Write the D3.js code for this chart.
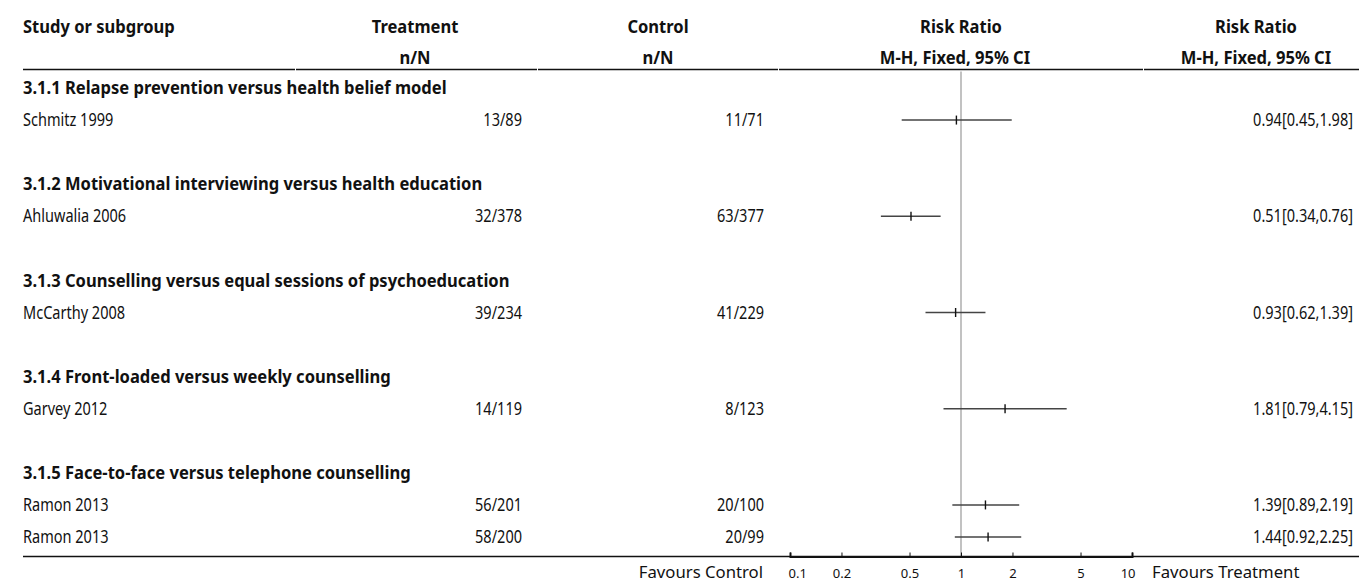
<!DOCTYPE html>
<html>
<head>
<meta charset="utf-8">
<script src="https://cdn.jsdelivr.net/npm/d3@7"></script>
<style>
  html, body { margin: 0; padding: 0; background: #fff; }
  svg { display: block; }
  text { font-family: "Noto Sans", "Open Sans", sans-serif; fill: #111; }
  .b { font-weight: 700; font-size: 17.5px; }
  .r { font-weight: 400; font-size: 17.5px; }
  .fav { font-weight: 400; font-size: 16.4px; }
</style>
</head>
<body>
<svg id="chart" width="1359" height="583"></svg>
<script>
// Subgroup headings
const subgroups = [
  "3.1.1 Relapse prevention versus health belief model",
  "3.1.2 Motivational interviewing versus health education",
  "3.1.3 Counselling versus equal sessions of psychoeducation",
  "3.1.4 Front-loaded versus weekly counselling",
  "3.1.5 Face-to-face versus telephone counselling"
];

// Study rows (group = index into subgroups)
const studyNames   = ["Schmitz 1999", "Ahluwalia 2006", "McCarthy 2008", "Garvey 2012", "Ramon 2013", "Ramon 2013"];
const studyGroup   = [0, 1, 2, 3, 4, 4];
const treatEvents  = [13, 32, 39, 14, 56, 58];
const treatTotal   = [89, 378, 234, 119, 201, 200];
const ctrlEvents   = [11, 63, 41, 8, 20, 20];
const ctrlTotal    = [71, 377, 229, 123, 100, 99];
const riskRatio    = [0.94, 0.51, 0.93, 1.81, 1.39, 1.44];
const ciLower      = [0.45, 0.34, 0.62, 0.79, 0.89, 0.92];
const ciUpper      = [1.98, 0.76, 1.39, 4.15, 2.19, 2.25];

// Axis ticks
const axisTicks = [0.1, 0.2, 0.5, 1, 2, 5, 10];

// Build the row layout: heading, studies of that group, then a spacer
const rows = [];
subgroups.forEach((g, gi) => {
  rows.push({ type: "head", label: g });
  studyNames.forEach((n, i) => {
    if (studyGroup[i] === gi) rows.push({ type: "study", i });
  });
  if (gi < subgroups.length - 1) rows.push({ type: "blank" });
});

const svg = d3.select("#chart");
const W = 1359;

const y = d3.scaleLinear().domain([0, rows.length - 1]).range([88, 537]);
const x = d3.scaleLog().domain([0.1, 10]).range([790, 1132]);
const f2 = d3.format(".2f");

// Table text is set in a slightly condensed face
const squeeze = { b: 0.946, r: 0.83, fav: 1.02 };
function label(parent, px, py, str, cls, anchor = "start") {
  const g = parent.append("g")
    .attr("transform", `translate(${px},${py}) scale(${squeeze[cls]},1)`);
  g.append("text").attr("class", cls).attr("dy", "0.35em")
    .attr("text-anchor", anchor).text(str);
  return g;
}

// Column geometry
const col = {
  study: 23,
  treatCenter: 415, treatRight: 522,
  ctrlCenter: 658, ctrlRight: 764,
  rrCenter: 961, ciHdrCenter: 955,
  ciCenter: 1256, ciRight: 1353
};
const headerLineY = 69.5;
const bottomLineY = 556.5;

// Column headers
const hdr = svg.append("g");
const hdrRow1 = 26.5, hdrRow2 = 58;
label(hdr, col.study, hdrRow1, "Study or subgroup", "b");
label(hdr, col.treatCenter, hdrRow1, "Treatment", "b", "middle");
label(hdr, col.treatCenter, hdrRow2, "n/N", "b", "middle");
label(hdr, col.ctrlCenter, hdrRow1, "Control", "b", "middle");
label(hdr, col.ctrlCenter, hdrRow2, "n/N", "b", "middle");
label(hdr, col.rrCenter, hdrRow1, "Risk Ratio", "b", "middle");
label(hdr, col.ciHdrCenter, hdrRow2, "M-H, Fixed, 95% CI", "b", "middle");
label(hdr, col.ciCenter, hdrRow1, "Risk Ratio", "b", "middle");
label(hdr, col.ciCenter, hdrRow2, "M-H, Fixed, 95% CI", "b", "middle");

// Header rule, broken slightly between columns
const colBreaks = [23, 295, 537, 778, 1143, W];
for (let k = 0; k < colBreaks.length - 1; k++) {
  svg.append("line")
    .attr("x1", colBreaks[k] + (k ? 1 : 0)).attr("x2", colBreaks[k + 1])
    .attr("y1", headerLineY).attr("y2", headerLineY)
    .attr("stroke", "#111").attr("stroke-width", 1.6);
}

// Line of no effect
svg.append("line")
  .attr("x1", x(1)).attr("x2", x(1))
  .attr("y1", headerLineY + 2).attr("y2", bottomLineY)
  .attr("stroke", "#999").attr("stroke-width", 1.2);

// Table body
const body = svg.append("g");
rows.forEach((r, ri) => {
  const yy = y(ri);
  if (r.type === "head") {
    label(body, col.study, yy, r.label, "b");
  } else if (r.type === "study") {
    const i = r.i;
    label(body, col.study, yy, studyNames[i], "r");
    label(body, col.treatRight, yy, `${treatEvents[i]}/${treatTotal[i]}`, "r", "end");
    label(body, col.ctrlRight, yy, `${ctrlEvents[i]}/${ctrlTotal[i]}`, "r", "end");
    label(body, col.ciRight, yy, `${f2(riskRatio[i])}[${f2(ciLower[i])},${f2(ciUpper[i])}]`, "r", "end");
    // Confidence interval and point estimate
    body.append("line")
      .attr("x1", x(ciLower[i])).attr("x2", x(ciUpper[i]))
      .attr("y1", yy).attr("y2", yy)
      .attr("stroke", "#444").attr("stroke-width", 1.4);
    body.append("line")
      .attr("x1", x(riskRatio[i])).attr("x2", x(riskRatio[i]))
      .attr("y1", yy - 4.5).attr("y2", yy + 4.5)
      .attr("stroke", "#111").attr("stroke-width", 1.4);
  }
});

// Bottom rule
svg.append("line")
  .attr("x1", 23).attr("x2", W)
  .attr("y1", bottomLineY).attr("y2", bottomLineY)
  .attr("stroke", "#111").attr("stroke-width", 1.3);

// Log axis, ticks pointing up
const axis = d3.axisTop(x).tickValues(axisTicks).tickSize(4).tickFormat(d3.format("~g"));
const ag = svg.append("g").attr("transform", `translate(0,${bottomLineY})`).call(axis);
ag.select(".domain").attr("stroke", "#111").attr("stroke-width", 2);
ag.selectAll(".tick line").attr("stroke", "#111");
ag.selectAll(".tick text")
  .attr("y", 16.5).attr("dy", "0.35em")
  .style("font-family", "'Noto Sans', sans-serif").style("font-size", "13px").attr("fill", "#111")
  .attr("text-anchor", (d, k, n) => k === 0 ? "start" : (k === n.length - 1 ? "end" : "middle"))
  .attr("dx", (d, k, n) => k === 0 ? "-2" : (k === n.length - 1 ? "3" : "0"));

// Favours labels
label(svg, 763, bottomLineY + 15.5, "Favours Control", "fav", "end");
label(svg, 1152, bottomLineY + 15.5, "Favours Treatment", "fav");
</script>
</body>
</html>
